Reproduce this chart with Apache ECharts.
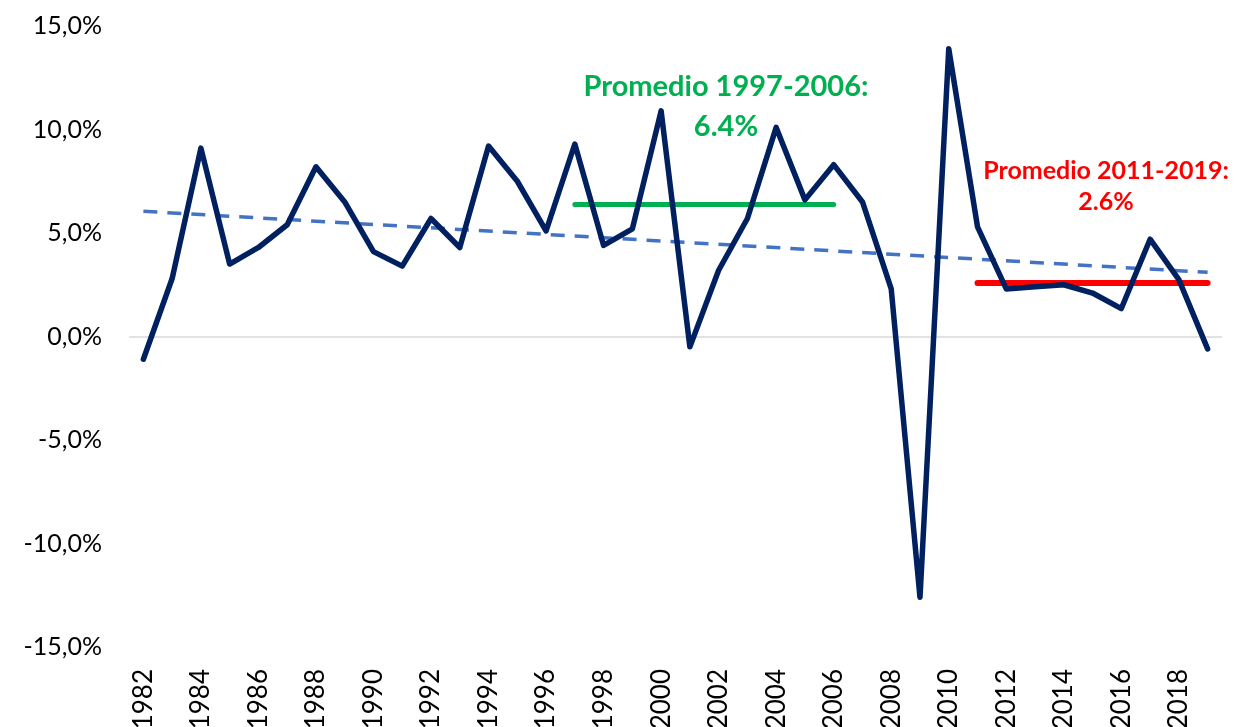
<!DOCTYPE html>
<html>
<head>
<meta charset="utf-8">
<script src="https://cdn.jsdelivr.net/npm/echarts@6/dist/echarts.min.js"></script>
<style>
    html, body { margin: 0; padding: 0; background: #fff; }
    #chart { width: 1237px; height: 727px; }
</style>
</head>
<body>
<div id="chart"></div>
<script>
// años
const years = ['1982', '1983', '1984', '1985', '1986', '1987', '1988', '1989', '1990', '1991',
    '1992', '1993', '1994', '1995', '1996', '1997', '1998', '1999', '2000', '2001',
    '2002', '2003', '2004', '2005', '2006', '2007', '2008', '2009', '2010', '2011',
    '2012', '2013', '2014', '2015', '2016', '2017', '2018', '2019'];
// crecimiento anual (%)
const growth = [-1.1, 2.8, 9.1, 3.5, 4.3, 5.4, 8.2, 6.5, 4.1, 3.4,
    5.7, 4.3, 9.2, 7.5, 5.1, 9.3, 4.4, 5.2, 10.9, -0.5,
    3.2, 5.7, 10.1, 6.6, 8.3, 6.5, 2.3, -12.6, 13.9, 5.3,
    2.3, 2.4, 2.5, 2.1, 1.35, 4.7, 2.75, -0.6];
// tendencia lineal: valor inicial y final
const trendYears = ['1982', '2019'];
const trendValues = [6.05, 3.1];
// promedios por periodo
const avgOld = { from: '1997', to: '2006', value: 6.4 };
const avgNew = { from: '2011', to: '2019', value: 2.6 };
const yTicks = { min: -15, max: 15, interval: 5 };

const font = 'Lato, "Open Sans", sans-serif';

const option = {
    animation: false,
    grid: {
        left: 129,
        right: 15,
        top: 26,
        bottom: 80,
        outerBoundsMode: 'none'
    },
    xAxis: {
        type: 'category',
        data: years,
        boundaryGap: true,
        axisLine: { show: false },
        axisTick: { show: false },
        axisLabel: {
            rotate: 90,
            interval: 1,
            margin: 22,
            fontSize: 26,
            fontFamily: font,
            color: '#000'
        }
    },
    yAxis: {
        type: 'value',
        min: yTicks.min,
        max: yTicks.max,
        interval: yTicks.interval,
        splitLine: { show: false },
        axisLine: { show: false },
        axisTick: { show: false },
        axisLabel: {
            margin: 27,
            fontSize: 25,
            fontFamily: font,
            color: '#000',
            formatter: v => v.toFixed(1).replace('.', ',') + '%'
        }
    },
    series: [
        {
            name: 'Crecimiento',
            type: 'line',
            data: growth,
            symbol: 'none',
            z: 5,
            lineStyle: {
                color: '#00205F',
                width: 5.5,
                cap: 'round',
                join: 'round'
            },
            markLine: {
                silent: true,
                symbol: 'none',
                label: { show: false },
                z: 1,
                data: [
                    // linea del cero
                    {
                        yAxis: 0,
                        lineStyle: { color: '#D9D9D9', width: 1.5, type: 'solid' }
                    },
                    // tendencia
                    [
                        { coord: [trendYears[0], trendValues[0]], lineStyle: { color: '#4472C4', width: 3.5, type: [14, 10] } },
                        { coord: [trendYears[1], trendValues[1]] }
                    ]
                ]
            }
        },
        {
            name: 'Promedios',
            type: 'line',
            data: [],
            z: 6,
            markLine: {
                silent: true,
                symbol: 'none',
                label: { show: false },
                data: [
                    [
                        { coord: [avgOld.from, avgOld.value], lineStyle: { color: '#00B050', width: 5, type: 'solid', cap: 'round' } },
                        { coord: [avgOld.to, avgOld.value] }
                    ],
                    [
                        { coord: [avgNew.from, avgNew.value], lineStyle: { color: '#FF0000', width: 6, type: 'solid', cap: 'round' } },
                        { coord: [avgNew.to, avgNew.value] }
                    ]
                ]
            }
        }
    ],
    graphic: [
        {
            type: 'text', x: 726, y: 87,
            style: { text: 'Promedio ' + avgOld.from + '-' + avgOld.to + ':', fill: '#00B050', font: 'bold 29px ' + font, textAlign: 'center', textVerticalAlign: 'middle' }
        },
        {
            type: 'text', x: 726, y: 127,
            style: { text: avgOld.value.toFixed(1) + '%', fill: '#00B050', font: 'bold 29px ' + font, textAlign: 'center', textVerticalAlign: 'middle' }
        },
        {
            type: 'text', x: 1106, y: 171,
            style: { text: 'Promedio ' + avgNew.from + '-' + avgNew.to + ':', fill: '#FF0000', font: 'bold 25px ' + font, textAlign: 'center', textVerticalAlign: 'middle' }
        },
        {
            type: 'text', x: 1106, y: 202,
            style: { text: avgNew.value.toFixed(1) + '%', fill: '#FF0000', font: 'bold 25px ' + font, textAlign: 'center', textVerticalAlign: 'middle' }
        }
    ]
};

const chart = echarts.init(document.getElementById('chart'));
chart.setOption(option);
</script>
</body>
</html>
